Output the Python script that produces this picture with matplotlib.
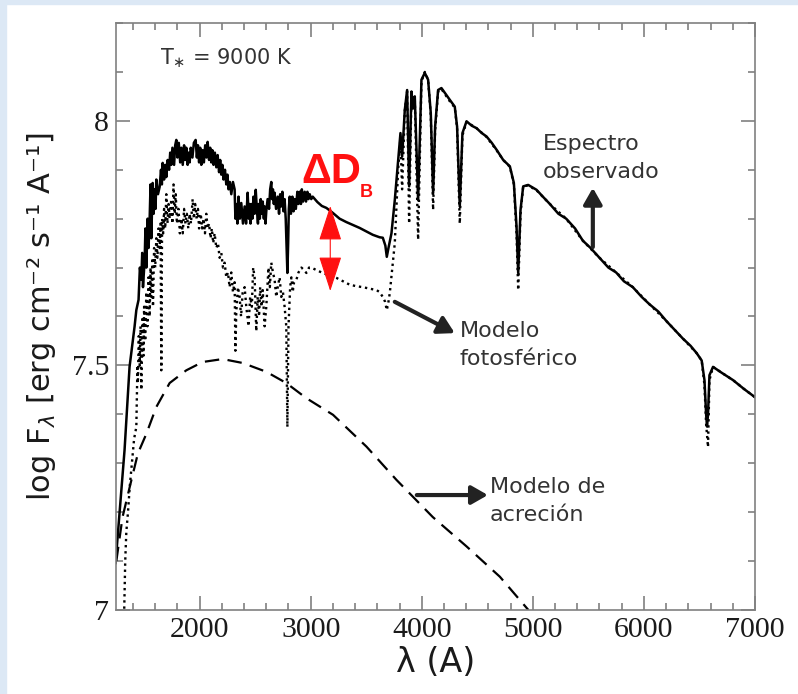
import matplotlib
matplotlib.use("Agg")
import matplotlib.pyplot as plt
from matplotlib.patches import Rectangle
from matplotlib.ticker import MultipleLocator

# observed spectrum (solid)
obs_wl = [1243, 1279, 1324, 1369, 1414, 1430, 1450, 1462, 1475, 1483, 1490, 1505, 1512, 1520,
          1532, 1540, 1550, 1558, 1565, 1577, 1586, 1595, 1603, 1610, 1625, 1640, 1652, 1660,
          1667, 1680, 1690, 1700, 1712, 1725, 1735, 1745, 1755, 1770, 1780, 1790, 1800, 1812,
          1825, 1835, 1848, 1860, 1870, 1880, 1892, 1900, 1910, 1920, 1935, 1948, 1964, 1975,
          1985, 1995, 2005, 2015, 2027, 2038, 2050, 2062, 2072, 2085, 2095, 2105, 2115, 2125,
          2137, 2150, 2162, 2175, 2185, 2195, 2205, 2215, 2228, 2240, 2250, 2260, 2272, 2285,
          2300, 2315, 2322, 2330, 2340, 2350, 2362, 2375, 2390, 2405, 2418, 2432, 2442, 2450,
          2458, 2465, 2475, 2485, 2495, 2505, 2515, 2525, 2532, 2542, 2550, 2560, 2568, 2578,
          2585, 2593, 2600, 2612, 2625, 2635, 2645, 2652, 2660, 2668, 2675, 2688, 2703, 2715,
          2725, 2735, 2745, 2755, 2765, 2775, 2782, 2790, 2797, 2803, 2811, 2822, 2835, 2845,
          2856, 2866, 2880, 2890, 2901, 2912, 2920, 2932, 2946, 2958, 2970, 2980, 2991, 3005,
          3018, 3060, 3100, 3141, 3198, 3260, 3321, 3380, 3441, 3500, 3559, 3620, 3649, 3672,
          3685, 3700, 3712, 3727, 3757, 3787, 3808, 3823, 3847, 3868, 3886, 3907, 3921, 3937,
          3967, 3997, 4027, 4057, 4081, 4102, 4120, 4147, 4177, 4252, 4297, 4318, 4342, 4366,
          4403, 4450, 4493, 4540, 4583, 4630, 4673, 4733, 4793, 4829, 4853, 4868, 4889, 4913,
          4958, 5033, 5090, 5153, 5230, 5300, 5380, 5450, 5520, 5600, 5680, 5750, 5820, 5900,
          5980, 6050, 6130, 6205, 6280, 6350, 6420, 6475, 6520, 6545, 6560, 6568, 6577, 6590,
          6622, 6700, 6802, 6900, 7000]
obs_fl = [7.096, 7.198, 7.327, 7.497, 7.579, 7.613, 7.634, 7.70, 7.675, 7.73, 7.66, 7.716, 7.78, 7.70,
          7.80, 7.74, 7.80, 7.87, 7.76, 7.873, 7.81, 7.86, 7.82, 7.88, 7.85, 7.865, 7.90, 7.87,
          7.914, 7.88, 7.91, 7.885, 7.92, 7.90, 7.935, 7.91, 7.945, 7.91, 7.95, 7.961, 7.925, 7.955,
          7.915, 7.945, 7.91, 7.95, 7.92, 7.945, 7.91, 7.935, 7.915, 7.945, 7.925, 7.955, 7.961, 7.925,
          7.95, 7.915, 7.945, 7.91, 7.94, 7.915, 7.95, 7.925, 7.957, 7.92, 7.945, 7.915, 7.94, 7.91,
          7.935, 7.905, 7.93, 7.895, 7.92, 7.89, 7.91, 7.88, 7.90, 7.87, 7.89, 7.86, 7.875, 7.85,
          7.875, 7.86, 7.80, 7.83, 7.79, 7.845, 7.80, 7.832, 7.79, 7.825, 7.79, 7.853, 7.80, 7.83,
          7.79, 7.83, 7.80, 7.845, 7.81, 7.859, 7.82, 7.79, 7.83, 7.80, 7.84, 7.81, 7.835, 7.80,
          7.825, 7.79, 7.815, 7.84, 7.82, 7.86, 7.875, 7.84, 7.86, 7.83, 7.853, 7.82, 7.845, 7.81,
          7.85, 7.825, 7.855, 7.815, 7.84, 7.80, 7.75, 7.689, 7.75, 7.82, 7.845, 7.81, 7.845, 7.815,
          7.84, 7.82, 7.855, 7.83, 7.855, 7.83, 7.86, 7.835, 7.855, 7.835, 7.855, 7.84, 7.85, 7.84,
          7.845, 7.834, 7.826, 7.822, 7.812, 7.80, 7.793, 7.787, 7.781, 7.774, 7.767, 7.762, 7.761, 7.745,
          7.722, 7.74, 7.753, 7.770, 7.838, 7.920, 7.975, 7.927, 8.022, 8.063, 7.866, 8.060, 8.029, 8.050,
          7.838, 8.084, 8.098, 8.084, 8.016, 7.852, 7.988, 8.063, 8.067, 8.043, 8.029, 7.988, 7.825, 7.975,
          7.999, 7.99, 7.985, 7.975, 7.968, 7.955, 7.941, 7.920, 7.907, 7.873, 7.784, 7.689, 7.818, 7.866,
          7.869, 7.859, 7.845, 7.83, 7.81, 7.80, 7.78, 7.755, 7.74, 7.72, 7.70, 7.69, 7.672, 7.66,
          7.64, 7.625, 7.61, 7.59, 7.572, 7.555, 7.54, 7.525, 7.51, 7.47, 7.40, 7.375, 7.40, 7.48,
          7.497, 7.485, 7.47, 7.452, 7.435]

# photospheric model (dotted)
pho_wl = [1320, 1330, 1340, 1355, 1370, 1390, 1410, 1430, 1440, 1444, 1452, 1460, 1468, 1475,
          1487, 1495, 1500, 1510, 1520, 1530, 1540, 1550, 1558, 1565, 1575, 1580, 1590, 1600,
          1610, 1620, 1630, 1640, 1648, 1655, 1662, 1672, 1680, 1690, 1700, 1710, 1720, 1730,
          1745, 1755, 1765, 1775, 1785, 1795, 1810, 1822, 1835, 1848, 1860, 1872, 1885, 1898,
          1910, 1922, 1937, 1948, 1960, 1973, 1985, 1995, 2010, 2022, 2035, 2048, 2060, 2072,
          2085, 2098, 2110, 2122, 2135, 2150, 2165, 2180, 2195, 2210, 2225, 2240, 2255, 2270,
          2285, 2300, 2315, 2322, 2330, 2345, 2360, 2373, 2387, 2405, 2420, 2440, 2455, 2470,
          2482, 2495, 2510, 2523, 2535, 2545, 2557, 2568, 2585, 2600, 2610, 2620, 2632, 2645,
          2660, 2675, 2690, 2703, 2720, 2735, 2750, 2765, 2780, 2790, 2800, 2815, 2826, 2838,
          2850, 2871, 2890, 2916, 2940, 2961, 2985, 3006, 3050, 3108, 3170, 3231, 3290, 3351,
          3410, 3468, 3530, 3592, 3620, 3649, 3670, 3685, 3700, 3712, 3739, 3757, 3787, 3808,
          3823, 3847, 3868, 3886, 3907, 3921, 3937, 3967, 3997, 4027, 4057, 4081, 4102, 4120,
          4147, 4177, 4252, 4297, 4318, 4342, 4366, 4403, 4493, 4583, 4673, 4733, 4793, 4829,
          4853, 4868, 4889, 4913, 4958, 5033, 5153, 5300, 5450, 5600, 5750, 5900, 6050, 6205,
          6350, 6475, 6520, 6545, 6560, 6577, 6590, 6622, 6700, 6802, 6900, 7000]
pho_fl = [6.99, 7.10, 7.16, 7.20, 7.25, 7.30, 7.35, 7.374, 7.50, 7.464, 7.56, 7.50, 7.58, 7.45,
          7.60, 7.52, 7.62, 7.55, 7.65, 7.58, 7.68, 7.60, 7.70, 7.64, 7.72, 7.62, 7.74, 7.70,
          7.76, 7.72, 7.78, 7.74, 7.79, 7.49, 7.80, 7.77, 7.82, 7.78, 7.85, 7.79, 7.83, 7.80,
          7.84, 7.79, 7.87, 7.81, 7.85, 7.79, 7.82, 7.77, 7.80, 7.77, 7.82, 7.79, 7.81, 7.78,
          7.81, 7.79, 7.84, 7.80, 7.83, 7.80, 7.82, 7.78, 7.81, 7.78, 7.80, 7.77, 7.81, 7.78,
          7.79, 7.76, 7.78, 7.75, 7.77, 7.74, 7.75, 7.72, 7.73, 7.70, 7.71, 7.68, 7.69, 7.66,
          7.69, 7.65, 7.67, 7.53, 7.61, 7.66, 7.64, 7.60, 7.648, 7.66, 7.62, 7.58, 7.64, 7.62,
          7.70, 7.68, 7.57, 7.64, 7.60, 7.66, 7.62, 7.654, 7.58, 7.62, 7.66, 7.70, 7.66, 7.71,
          7.69, 7.675, 7.64, 7.66, 7.68, 7.64, 7.65, 7.62, 7.58, 7.374, 7.58, 7.66, 7.68, 7.65,
          7.67, 7.675, 7.69, 7.70, 7.695, 7.689, 7.70, 7.70, 7.695, 7.689, 7.684, 7.679, 7.672, 7.665,
          7.662, 7.66, 7.657, 7.654, 7.65, 7.64, 7.63, 7.613, 7.63, 7.648, 7.71, 7.75, 7.90, 7.965,
          7.86, 8.02, 8.06, 7.79, 8.055, 8.025, 8.045, 7.757, 8.08, 8.10, 8.084, 8.01, 7.818, 7.98,
          8.06, 8.065, 8.04, 8.027, 7.985, 7.79, 7.97, 7.998, 7.985, 7.967, 7.94, 7.92, 7.906, 7.87,
          7.77, 7.654, 7.81, 7.866, 7.868, 7.858, 7.83, 7.80, 7.755, 7.72, 7.69, 7.66, 7.625, 7.59,
          7.555, 7.525, 7.51, 7.46, 7.38, 7.333, 7.47, 7.497, 7.485, 7.47, 7.452, 7.435]

# accretion model (dashed)
acc_wl = [1250, 1306, 1369, 1444, 1520, 1610, 1730, 1880, 2027, 2207, 2387, 2600, 2780, 2961,
          3201, 3502, 3772, 4099, 4403, 4703, 4960]
acc_fl = [7.10, 7.19, 7.25, 7.32, 7.36, 7.415, 7.464, 7.49, 7.507, 7.513, 7.505, 7.487, 7.464, 7.433,
          7.399, 7.334, 7.266, 7.19, 7.13, 7.068, 7.0]

fig = plt.figure(figsize=(7.98, 6.94), dpi=100)
fig.patch.set_facecolor("white")
band = "#dce8f5"
fig.patches.append(Rectangle((0, 1 - 4 / 694), 1, 4 / 694, transform=fig.transFigure, color=band, zorder=0))
fig.patches.append(Rectangle((0, 0), 6 / 798, 1, transform=fig.transFigure, color=band, zorder=0))

ax = fig.add_axes([116 / 798, 1 - 610 / 694, 639 / 798, 587 / 694])

ax.plot(pho_wl, pho_fl, color="black", lw=1.7, linestyle=(0, (1, 1.6)))
ax.plot(acc_wl, acc_fl, color="black", lw=1.6, linestyle=(0, (6.5, 3.8)))
ax.plot(obs_wl, obs_fl, color="black", lw=1.8)

ax.set_xlim(1247, 7000)
ax.set_ylim(7.0, 8.2)
ax.xaxis.set_major_locator(MultipleLocator(1000))
ax.xaxis.set_minor_locator(MultipleLocator(200))
ax.yaxis.set_major_locator(MultipleLocator(0.5))
ax.yaxis.set_minor_locator(MultipleLocator(0.1))
ax.yaxis.set_major_formatter(lambda v, p: "%g" % v)

spine_c = "#808080"
for s in ax.spines.values():
    s.set_color(spine_c)
    s.set_linewidth(1.2)
ax.tick_params(which="both", direction="in", top=True, right=True, color=spine_c, width=1.2)
ax.tick_params(which="major", length=10, pad=5, labelsize=21.5, labelcolor="#1a1a1a")
ax.tick_params(which="minor", length=5)
for lab in ax.get_xticklabels() + ax.get_yticklabels():
    lab.set_family("Liberation Serif")

ax.set_xlabel("λ (A)", fontsize=24, color="#1a1a1a", labelpad=2)
ax.set_ylabel("log F$_\\lambda$ [erg cm\u207b\u00b2 s\u207b\u00b9 A\u207b\u00b9]", fontsize=22,
              color="#1a1a1a", labelpad=10)

txt_c = "#333333"
ax.text(1640, 8.129, "T$_{\\ast}$ = 9000 K", fontsize=15, color=txt_c, va="center", ha="left")

ax.text(2915, 7.873, "ΔD", fontsize=30, color="#ff1010", fontweight="bold",
        family="Liberation Sans", va="baseline")
ax.text(3440, 7.845, "B", fontsize=13, color="#ff1010", fontweight="bold",
        family="Liberation Sans", va="baseline")

ax.annotate("", xy=(3176, 7.826), xytext=(3176, 7.652),
            arrowprops=dict(arrowstyle="<|-|>,head_length=0.8,head_width=0.26", color="#ff1010",
                            lw=0.8, mutation_scale=28, shrinkA=0, shrinkB=0))

ax.text(5090, 7.941, "Espectro", fontsize=16, color=txt_c, va="baseline")
ax.text(5090, 7.883, "observado", fontsize=16, color=txt_c, va="baseline")
ax.text(4342, 7.558, "Modelo", fontsize=16, color=txt_c, va="baseline")
ax.text(4342, 7.500, "fotosférico", fontsize=16, color=txt_c, va="baseline")
ax.text(4613, 7.239, "Modelo de", fontsize=16, color=txt_c, va="baseline")
ax.text(4613, 7.181, "acreción", fontsize=16, color=txt_c, va="baseline")

arr = dict(arrowstyle="-|>,head_length=0.7,head_width=0.4", color="#222222", lw=3,
           mutation_scale=14, shrinkA=0, shrinkB=0)
ax.annotate("", xy=(5540, 7.863), xytext=(5540, 7.742), arrowprops=arr)
ax.annotate("", xy=(4297, 7.566), xytext=(3757, 7.630), arrowprops=arr)
ax.annotate("", xy=(4595, 7.235), xytext=(3955, 7.235), arrowprops=arr)

fig.savefig("out.png", dpi=100, facecolor=fig.get_facecolor())
